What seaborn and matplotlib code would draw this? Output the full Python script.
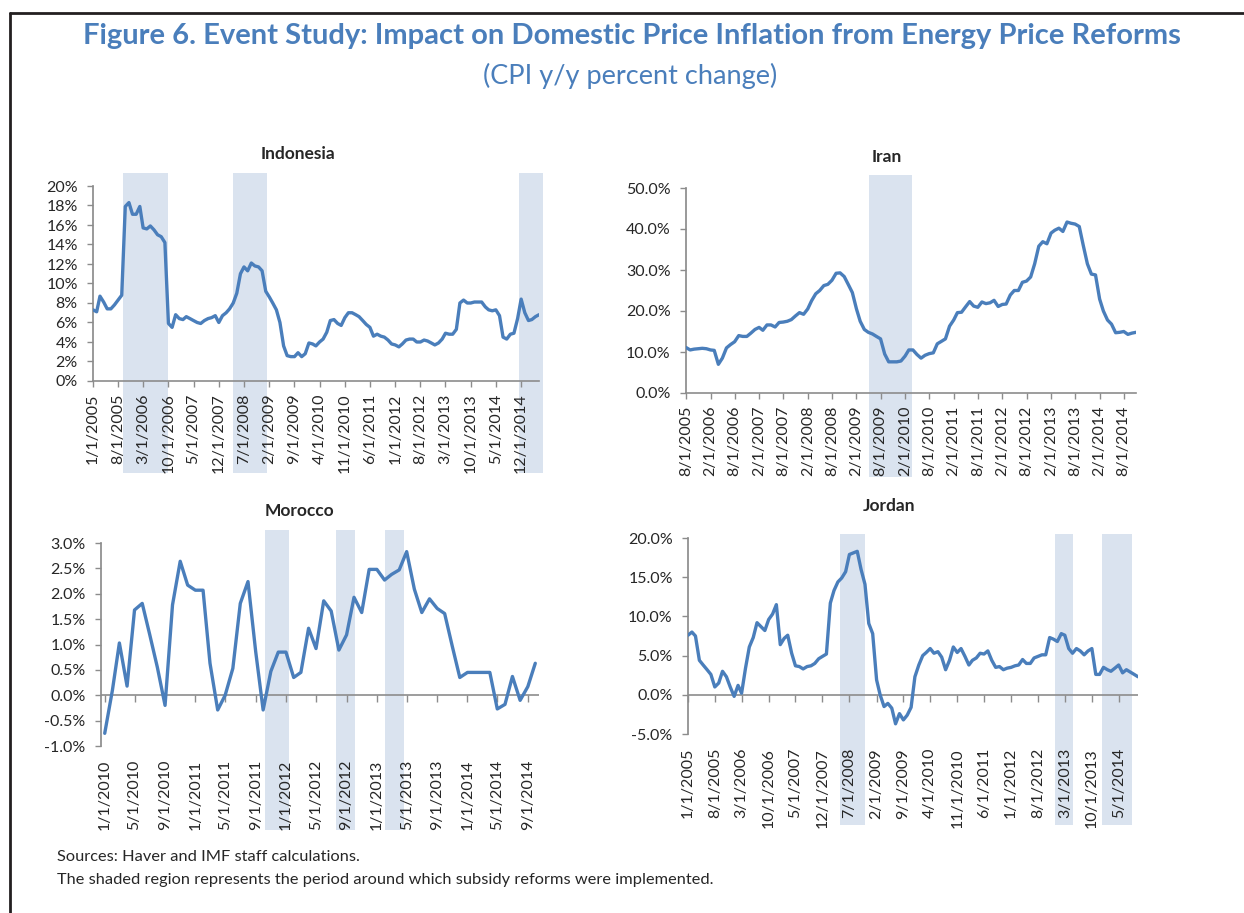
# Figure 6 - Event study: CPI inflation around energy price reforms

import pandas as pd
import numpy as np
import matplotlib
matplotlib.use('Agg')
import matplotlib.pyplot as plt
import seaborn as sns
from matplotlib.ticker import FuncFormatter
from matplotlib.lines import Line2D

sns.set_theme(style='white')
plt.rcParams['font.family'] = ['Lato', 'DejaVu Sans']

# DATA (CPI y/y percent change, monthly)
indonesia_start = '2005-01-01'
indonesia = [7.3, 7.1, 8.7, 8.1, 7.4, 7.4, 7.8, 8.3, 8.8, 17.9, 18.3, 17.1,
             17.1, 17.9, 15.7, 15.6, 15.9, 15.5, 15.0, 14.8, 14.2, 5.9, 5.5, 6.8,
             6.4, 6.3, 6.6, 6.4, 6.2, 6.0, 5.9, 6.2, 6.4, 6.5, 6.7, 6.0,
             6.7, 7.0, 7.4, 8.0, 9.0, 11.0, 11.7, 11.3, 12.1, 11.8, 11.7, 11.3,
             9.2, 8.6, 8.0, 7.3, 6.0, 3.6, 2.6, 2.5, 2.5, 2.9, 2.5, 2.8,
             3.9, 3.8, 3.6, 4.0, 4.3, 5.0, 6.2, 6.3, 5.9, 5.7, 6.5, 7.0,
             7.0, 6.8, 6.6, 6.2, 5.8, 5.5, 4.6, 4.8, 4.6, 4.5, 4.2, 3.8,
             3.7, 3.5, 3.8, 4.2, 4.3, 4.3, 4.0, 4.0, 4.2, 4.1, 3.9, 3.7,
             3.9, 4.3, 4.9, 4.8, 4.8, 5.3, 8.0, 8.3, 8.0, 8.0, 8.1, 8.1,
             8.1, 7.6, 7.3, 7.2, 7.3, 6.7, 4.5, 4.3, 4.8, 4.9, 6.4, 8.4,
             7.0, 6.2, 6.3, 6.6, 6.8]
indonesia_reforms = [('2005-09-15', '2006-10-01'), ('2008-04-01', '2009-01-15'),
                     ('2014-11-15', '2015-06-01')]

iran_start = '2005-08-01'
iran = [11.1, 10.5, 10.7, 10.8, 10.9, 10.8, 10.5, 10.4, 7.0, 8.5, 11.0, 11.8,
        12.5, 14.0, 13.8, 13.8, 14.6, 15.5, 16.0, 15.3, 16.6, 16.6, 16.1, 17.2,
        17.3, 17.5, 17.9, 18.8, 19.6, 19.2, 20.5, 22.5, 24.2, 25.0, 26.2, 26.5,
        27.5, 29.2, 29.3, 28.4, 26.5, 24.5, 20.5, 17.5, 15.5, 14.8, 14.4, 13.8,
        13.2, 9.5, 7.6, 7.6, 7.6, 7.8, 9.0, 10.5, 10.5, 9.4, 8.5, 9.2,
        9.6, 9.8, 12.0, 12.6, 13.2, 16.3, 17.8, 19.6, 19.7, 21.0, 22.3, 21.2,
        20.9, 22.2, 21.8, 22.0, 22.6, 21.1, 21.6, 21.7, 23.9, 25.0, 25.0, 27.0,
        27.3, 28.3, 31.5, 35.8, 36.9, 36.4, 39.0, 39.7, 40.2, 39.4, 41.7, 41.4,
        41.2, 40.6, 36.0, 31.5, 29.0, 28.8, 22.9, 20.0, 17.8, 16.8, 14.7, 14.8,
        15.0, 14.3, 14.6, 14.8]
iran_reforms = [('2009-05-05', '2010-03-25')]

morocco_start = '2010-01-01'
morocco = [-0.75, 0.1, 1.03, 0.18, 1.68, 1.81, 1.2, 0.55, -0.2, 1.78, 2.64, 2.17,
           2.07, 2.07, 0.63, -0.29, 0.0, 0.53, 1.81, 2.24, 0.86, -0.29, 0.47, 0.85,
           0.85, 0.35, 0.45, 1.32, 0.92, 1.86, 1.66, 0.89, 1.19, 1.93, 1.63, 2.48,
           2.48, 2.27, 2.38, 2.47, 2.83, 2.09, 1.63, 1.90, 1.71, 1.61, 0.96, 0.35,
           0.45, 0.45, 0.45, 0.45, -0.27, -0.18, 0.37, -0.1, 0.17, 0.63]
morocco_reforms = [('2011-10-10', '2012-01-12'), ('2012-07-20', '2012-10-03'),
                   ('2013-02-03', '2013-04-20')]

jordan_start = '2005-01-01'
jordan = [7.6, 8.0, 7.5, 4.4, 3.8, 3.2, 2.6, 1.0, 1.5, 3.0, 2.3, 1.0,
          -0.2, 1.2, 0.2, 3.4, 6.1, 7.3, 9.2, 8.7, 8.2, 9.6, 10.3, 11.5,
          6.4, 7.2, 7.6, 5.3, 3.7, 3.6, 3.3, 3.6, 3.7, 4.0, 4.6, 4.9,
          5.2, 11.7, 13.3, 14.4, 14.9, 15.7, 17.9, 18.1, 18.3, 16.0, 14.1, 9.1,
          7.8, 1.9, 0.0, -1.5, -1.1, -1.7, -3.7, -2.4, -3.2, -2.6, -1.6, 2.3,
          3.8, 5.0, 5.4, 5.9, 5.3, 5.5, 4.8, 3.2, 4.4, 6.1, 5.4, 5.9,
          4.9, 3.8, 4.4, 4.7, 5.3, 5.2, 5.6, 4.4, 3.5, 3.6, 3.2, 3.4,
          3.5, 3.7, 3.8, 4.5, 4.0, 4.0, 4.7, 4.9, 5.1, 5.1, 7.3, 7.1,
          6.8, 7.8, 7.6, 5.9, 5.3, 5.9, 5.6, 5.1, 5.6, 5.9, 2.6, 2.6,
          3.5, 3.2, 3.0, 3.4, 3.8, 2.8, 3.2, 2.9, 2.6, 2.3]
jordan_reforms = [('2008-04-15', '2008-11-05'), ('2012-12-15', '2013-05-01'),
                  ('2013-12-20', '2014-08-15')]

BLUE = '#4a7ebb'
SHADE = '#dae3ef'
GRAY = '#8c8c8c'
TXT = '#262626'
TICK_FS = 11.5


def fmt_pct(decimals):
    return FuncFormatter(lambda v, pos: f'{v:.{decimals}f}%')


def date_label(d):
    return f'{d.month}/{d.day}/{d.year}'


def panel(fig, rect, start, values, reforms, ylim, ystep, decimals,
          tick_every, span_y, xpad_days=0, zero_axis=False):
    ax = fig.add_axes(rect)
    dates = pd.date_range(start, periods=len(values), freq='MS')
    df = pd.DataFrame({'date': dates, 'cpi': values})

    for s, e in reforms:
        ax.axvspan(pd.Timestamp(s), pd.Timestamp(e), ymin=span_y[0], ymax=span_y[1],
                   color=SHADE, lw=0, zorder=0, clip_on=False)

    ticks = dates[::tick_every]
    labels = [date_label(d) for d in ticks]

    if zero_axis:
        # category axis crosses at 0: gray line with tick marks pointing down
        ax.axhline(0, color=GRAY, lw=1.2, zorder=1)
        ax.plot(ticks, np.zeros(len(ticks)), ls='none', marker=3, ms=5,
                mew=1, color=GRAY, zorder=1, clip_on=False)

    sns.lineplot(data=df, x='date', y='cpi', ax=ax, color=BLUE, linewidth=2.4, zorder=3)

    pad = pd.Timedelta(days=xpad_days)
    ax.set_xlim(dates[0] - pad, dates[-1] + pad)
    ax.set_ylim(*ylim)
    ax.set_yticks(np.arange(ylim[0], ylim[1] + ystep / 2, ystep))
    ax.yaxis.set_major_formatter(fmt_pct(decimals))
    ax.set_xticks(ticks)
    ax.set_xticklabels(labels, rotation=90)
    ax.set_xlabel('')
    ax.set_ylabel('')

    for side in ['top', 'right']:
        ax.spines[side].set_visible(False)
    ax.spines['left'].set_color(GRAY)
    ax.spines['bottom'].set_color(GRAY)
    ax.spines['bottom'].set_linewidth(1.2)
    ax.tick_params(axis='y', left=True, direction='out', length=4, width=1,
                   color=GRAY, labelsize=TICK_FS, labelcolor=TXT, pad=7)

    if zero_axis:
        ax.spines['bottom'].set_visible(False)
        ax.tick_params(axis='x', bottom=True, length=0, labelsize=TICK_FS,
                       labelcolor=TXT, pad=10)
    else:
        ax.tick_params(axis='x', bottom=True, direction='out', length=4, width=1,
                       color=GRAY, labelsize=TICK_FS, labelcolor=TXT, pad=5)
    return ax


fig = plt.figure(figsize=(12.44, 9.13), dpi=100)
W, H = 1244, 913


def rect_px(left, top, right, bottom):
    return [left / W, 1 - bottom / H, (right - left) / W, (bottom - top) / H]


panel(fig, rect_px(93, 186, 539, 381), indonesia_start, indonesia,
      indonesia_reforms, (0, 20), 2, 0, 7, (-0.47, 1.065))
panel(fig, rect_px(686, 188, 1136, 393), iran_start, iran,
      iran_reforms, (0, 50), 10, 1, 6, (-0.41, 1.062))
panel(fig, rect_px(101, 543, 539, 746), morocco_start, morocco,
      morocco_reforms, (-1, 3), 0.5, 1, 4, (-0.413, 1.062), xpad_days=15, zero_axis=True)
panel(fig, rect_px(688, 538, 1138, 734), jordan_start, jordan,
      jordan_reforms, (-5, 20), 5, 1, 7, (-0.464, 1.02), zero_axis=True)

# panel titles
for name, x, y in [('Indonesia', 298, 154), ('Iran', 887, 157),
                   ('Morocco', 299, 511), ('Jordan', 889, 506)]:
    fig.text(x / W, 1 - y / H, name, ha='center', va='center', fontsize=12.5,
             fontweight='bold', color=TXT)

# main titles
fig.text(632 / W, 1 - 36 / H,
         'Figure 6. Event Study: Impact on Domestic Price Inflation from Energy Price Reforms',
         ha='center', va='center', fontsize=21, fontweight='bold', color=BLUE)
fig.text(630 / W, 1 - 76 / H, '(CPI y/y percent change)', ha='center', va='center',
         fontsize=19.5, color=BLUE)

# footnotes
fig.text(57 / W, 1 - 857 / H, 'Sources: Haver and IMF staff calculations.',
         ha='left', va='center', fontsize=11.8, color=TXT)
fig.text(57 / W, 1 - 880 / H,
         'The shaded region represents the period around which subsidy reforms were implemented.',
         ha='left', va='center', fontsize=11.8, color=TXT)

# frame
fig.add_artist(Line2D([10 / W, 1], [1 - 13 / H, 1 - 13 / H], transform=fig.transFigure,
                      color='#231f20', lw=2))
fig.add_artist(Line2D([10 / W, 10 / W], [1 - 13 / H, 0], transform=fig.transFigure,
                      color='#231f20', lw=2))

fig.savefig('out.png', dpi=100)
